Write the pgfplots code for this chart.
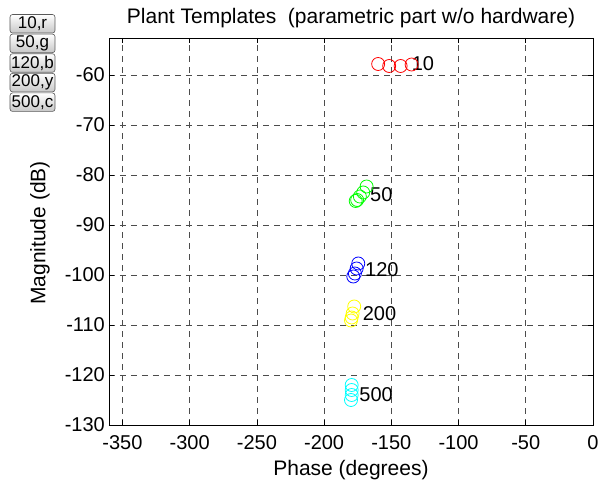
\documentclass[border=0pt]{standalone}
\usepackage{pgfplots}
\pgfplotsset{compat=1.18}
\usetikzlibrary{calc}
\usepackage{fontspec}
\setmainfont{Liberation Sans}
\definecolor{mred}{rgb}{1,0,0}
\definecolor{mgreen}{rgb}{0,1,0}
\definecolor{mblue}{rgb}{0,0,1}
\definecolor{myellow}{rgb}{1,1,0}
\definecolor{mcyan}{rgb}{0,1,1}
\begin{document}
\begin{tikzpicture}
\begin{axis}[
  scale only axis, width=484pt, height=387pt,
  xmin=-360, xmax=0, ymin=-130, ymax=-52.6,
  xtick={-350,-300,-250,-200,-150,-100,-50,0},
  ytick={-130,-120,-110,-100,-90,-80,-70,-60},
  grid=major,
  major grid style={dash pattern=on 6pt off 5pt, black!70, line width=0.6pt},
  tick align=inside, major tick length=5pt,
  tick style={black, line width=0.6pt},
  axis line style={line width=0.8pt},
  /pgf/number format/assume math mode=true,
  ticklabel style={font=\fontsize{20}{24}\selectfont},
  xticklabel style={anchor=center, yshift=-18pt},
  yticklabel style={inner sep=4pt},
  every axis plot/.append style={only marks, mark=o, mark size=6.5pt, line width=0.8pt},
]
\addplot[mred] coordinates {(-159.8,-57.8) (-151.6,-58.2) (-143.1,-58.2) (-134.9,-57.9)};
\addplot[mgreen] coordinates {(-168.4,-82.3) (-170.9,-83.5) (-173.4,-84.3) (-175.4,-85.0) (-176.5,-85.2)};
\addplot[mblue] coordinates {(-174.6,-97.7) (-175.8,-98.7) (-177.1,-99.7) (-178.3,-100.3)};
\addplot[myellow] coordinates {(-177.6,-106.3) (-178.8,-107.7) (-179.5,-108.5) (-180.0,-109.1)};
\addplot[mcyan] coordinates {(-179.5,-122) (-179.5,-123) (-179.5,-124) (-180.0,-125)};
\begin{scope}[every node/.style={anchor=west, inner sep=0pt, font=\fontsize{20}{24}\selectfont}]
\node at (axis cs:-134.9,-57.8) {10};
\node at (axis cs:-165.9,-84) {50};
\node at (axis cs:-169.6,-99) {120};
\node at (axis cs:-171.4,-107.8) {200};
\node at (axis cs:-173.9,-124) {500};
\end{scope}
\coordinate (LL) at (rel axis cs:0,0);
\end{axis}
\pgfresetboundingbox
\useasboundingbox ($(LL)+(-109pt,-61pt)$) rectangle ($(LL)+(491pt,425pt)$);
\node[font=\fontsize{21}{25}\selectfont] at ($(LL)+(242pt,407pt)$) {Plant Templates\ \ (parametric part w/o hardware)};
\node[font=\fontsize{21}{25}\selectfont] at ($(LL)+(242pt,-45pt)$) {Phase (degrees)};
\node[font=\fontsize{21}{25}\selectfont, rotate=90] at ($(LL)+(-69pt,192pt)$) {Magnitude (dB)};
\tikzset{btn/.style={draw=black!65, line width=0.6pt, rounded corners=2.5pt, top color=white, bottom color=black!22, minimum width=45pt, minimum height=18.5pt, inner sep=0pt, font=\fontsize{17}{17}\selectfont}}
\node[btn] at ($(LL)+(-76.5pt,401.2pt)$) {10,r};
\node[btn] at ($(LL)+(-76.5pt,381.6pt)$) {50,g};
\node[btn] at ($(LL)+(-76.5pt,362.0pt)$) {120,b};
\node[btn] at ($(LL)+(-76.5pt,342.4pt)$) {200,y};
\node[btn] at ($(LL)+(-76.5pt,322.8pt)$) {500,c};
\end{tikzpicture}
\end{document}
